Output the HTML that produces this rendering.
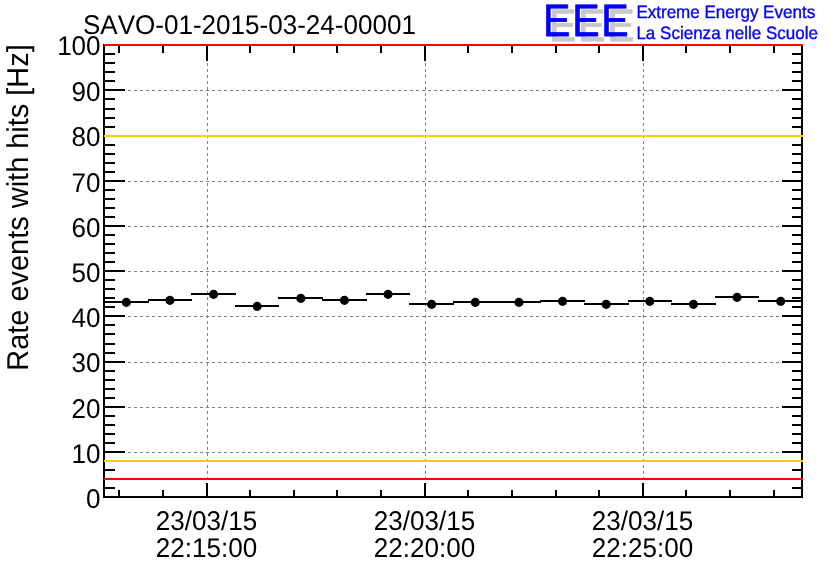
<!DOCTYPE html>
<html><head><meta charset="utf-8"><title>SAVO-01-2015-03-24-00001</title>
<style>html,body{margin:0;padding:0;background:#fff;}svg{display:block;}text{font-family:"Liberation Sans",Arial,Helvetica,sans-serif;font-kerning:none;text-rendering:geometricPrecision;}</style></head><body>
<svg width="836" height="572" viewBox="0 0 836 572">
<rect width="836" height="572" fill="#fff"/>
<g stroke="#808080" stroke-width="1" stroke-dasharray="3 3" shape-rendering="crispEdges" fill="none">
<line x1="104" y1="452.5" x2="802" y2="452.5"/>
<line x1="104" y1="407.5" x2="802" y2="407.5"/>
<line x1="104" y1="362.5" x2="802" y2="362.5"/>
<line x1="104" y1="316.5" x2="802" y2="316.5"/>
<line x1="104" y1="271.5" x2="802" y2="271.5"/>
<line x1="104" y1="226.5" x2="802" y2="226.5"/>
<line x1="104" y1="181.5" x2="802" y2="181.5"/>
<line x1="104" y1="136.5" x2="802" y2="136.5"/>
<line x1="104" y1="90.5" x2="802" y2="90.5"/>
<line x1="207.5" y1="45" x2="207.5" y2="497"/>
<line x1="425.5" y1="45" x2="425.5" y2="497"/>
<line x1="643.5" y1="45" x2="643.5" y2="497"/>
</g>
<g stroke="#000" stroke-width="2" shape-rendering="crispEdges" fill="none">
<rect x="104" y="45" width="698" height="452"/>
<line x1="104" y1="488" x2="115" y2="488"/>
<line x1="802" y1="488" x2="792" y2="488"/>
<line x1="104" y1="479" x2="115" y2="479"/>
<line x1="802" y1="479" x2="792" y2="479"/>
<line x1="104" y1="470" x2="115" y2="470"/>
<line x1="802" y1="470" x2="792" y2="470"/>
<line x1="104" y1="461" x2="115" y2="461"/>
<line x1="802" y1="461" x2="792" y2="461"/>
<line x1="104" y1="452" x2="125" y2="452"/>
<line x1="802" y1="452" x2="782" y2="452"/>
<line x1="104" y1="443" x2="115" y2="443"/>
<line x1="802" y1="443" x2="792" y2="443"/>
<line x1="104" y1="434" x2="115" y2="434"/>
<line x1="802" y1="434" x2="792" y2="434"/>
<line x1="104" y1="425" x2="115" y2="425"/>
<line x1="802" y1="425" x2="792" y2="425"/>
<line x1="104" y1="416" x2="115" y2="416"/>
<line x1="802" y1="416" x2="792" y2="416"/>
<line x1="104" y1="407" x2="125" y2="407"/>
<line x1="802" y1="407" x2="782" y2="407"/>
<line x1="104" y1="398" x2="115" y2="398"/>
<line x1="802" y1="398" x2="792" y2="398"/>
<line x1="104" y1="389" x2="115" y2="389"/>
<line x1="802" y1="389" x2="792" y2="389"/>
<line x1="104" y1="380" x2="115" y2="380"/>
<line x1="802" y1="380" x2="792" y2="380"/>
<line x1="104" y1="371" x2="115" y2="371"/>
<line x1="802" y1="371" x2="792" y2="371"/>
<line x1="104" y1="362" x2="125" y2="362"/>
<line x1="802" y1="362" x2="782" y2="362"/>
<line x1="104" y1="353" x2="115" y2="353"/>
<line x1="802" y1="353" x2="792" y2="353"/>
<line x1="104" y1="344" x2="115" y2="344"/>
<line x1="802" y1="344" x2="792" y2="344"/>
<line x1="104" y1="334" x2="115" y2="334"/>
<line x1="802" y1="334" x2="792" y2="334"/>
<line x1="104" y1="325" x2="115" y2="325"/>
<line x1="802" y1="325" x2="792" y2="325"/>
<line x1="104" y1="316" x2="125" y2="316"/>
<line x1="802" y1="316" x2="782" y2="316"/>
<line x1="104" y1="307" x2="115" y2="307"/>
<line x1="802" y1="307" x2="792" y2="307"/>
<line x1="104" y1="298" x2="115" y2="298"/>
<line x1="802" y1="298" x2="792" y2="298"/>
<line x1="104" y1="289" x2="115" y2="289"/>
<line x1="802" y1="289" x2="792" y2="289"/>
<line x1="104" y1="280" x2="115" y2="280"/>
<line x1="802" y1="280" x2="792" y2="280"/>
<line x1="104" y1="271" x2="125" y2="271"/>
<line x1="802" y1="271" x2="782" y2="271"/>
<line x1="104" y1="262" x2="115" y2="262"/>
<line x1="802" y1="262" x2="792" y2="262"/>
<line x1="104" y1="253" x2="115" y2="253"/>
<line x1="802" y1="253" x2="792" y2="253"/>
<line x1="104" y1="244" x2="115" y2="244"/>
<line x1="802" y1="244" x2="792" y2="244"/>
<line x1="104" y1="235" x2="115" y2="235"/>
<line x1="802" y1="235" x2="792" y2="235"/>
<line x1="104" y1="226" x2="125" y2="226"/>
<line x1="802" y1="226" x2="782" y2="226"/>
<line x1="104" y1="217" x2="115" y2="217"/>
<line x1="802" y1="217" x2="792" y2="217"/>
<line x1="104" y1="208" x2="115" y2="208"/>
<line x1="802" y1="208" x2="792" y2="208"/>
<line x1="104" y1="199" x2="115" y2="199"/>
<line x1="802" y1="199" x2="792" y2="199"/>
<line x1="104" y1="190" x2="115" y2="190"/>
<line x1="802" y1="190" x2="792" y2="190"/>
<line x1="104" y1="181" x2="125" y2="181"/>
<line x1="802" y1="181" x2="782" y2="181"/>
<line x1="104" y1="172" x2="115" y2="172"/>
<line x1="802" y1="172" x2="792" y2="172"/>
<line x1="104" y1="163" x2="115" y2="163"/>
<line x1="802" y1="163" x2="792" y2="163"/>
<line x1="104" y1="154" x2="115" y2="154"/>
<line x1="802" y1="154" x2="792" y2="154"/>
<line x1="104" y1="145" x2="115" y2="145"/>
<line x1="802" y1="145" x2="792" y2="145"/>
<line x1="104" y1="136" x2="125" y2="136"/>
<line x1="802" y1="136" x2="782" y2="136"/>
<line x1="104" y1="127" x2="115" y2="127"/>
<line x1="802" y1="127" x2="792" y2="127"/>
<line x1="104" y1="118" x2="115" y2="118"/>
<line x1="802" y1="118" x2="792" y2="118"/>
<line x1="104" y1="109" x2="115" y2="109"/>
<line x1="802" y1="109" x2="792" y2="109"/>
<line x1="104" y1="99" x2="115" y2="99"/>
<line x1="802" y1="99" x2="792" y2="99"/>
<line x1="104" y1="90" x2="125" y2="90"/>
<line x1="802" y1="90" x2="782" y2="90"/>
<line x1="104" y1="81" x2="115" y2="81"/>
<line x1="802" y1="81" x2="792" y2="81"/>
<line x1="104" y1="72" x2="115" y2="72"/>
<line x1="802" y1="72" x2="792" y2="72"/>
<line x1="104" y1="63" x2="115" y2="63"/>
<line x1="802" y1="63" x2="792" y2="63"/>
<line x1="104" y1="54" x2="115" y2="54"/>
<line x1="802" y1="54" x2="792" y2="54"/>
<line x1="119" y1="497" x2="119" y2="490"/>
<line x1="119" y1="45" x2="119" y2="53"/>
<line x1="163" y1="497" x2="163" y2="490"/>
<line x1="163" y1="45" x2="163" y2="53"/>
<line x1="207" y1="497" x2="207" y2="483"/>
<line x1="207" y1="45" x2="207" y2="61"/>
<line x1="250" y1="497" x2="250" y2="490"/>
<line x1="250" y1="45" x2="250" y2="53"/>
<line x1="294" y1="497" x2="294" y2="490"/>
<line x1="294" y1="45" x2="294" y2="53"/>
<line x1="337" y1="497" x2="337" y2="490"/>
<line x1="337" y1="45" x2="337" y2="53"/>
<line x1="381" y1="497" x2="381" y2="490"/>
<line x1="381" y1="45" x2="381" y2="53"/>
<line x1="425" y1="497" x2="425" y2="483"/>
<line x1="425" y1="45" x2="425" y2="61"/>
<line x1="468" y1="497" x2="468" y2="490"/>
<line x1="468" y1="45" x2="468" y2="53"/>
<line x1="512" y1="497" x2="512" y2="490"/>
<line x1="512" y1="45" x2="512" y2="53"/>
<line x1="556" y1="497" x2="556" y2="490"/>
<line x1="556" y1="45" x2="556" y2="53"/>
<line x1="599" y1="497" x2="599" y2="490"/>
<line x1="599" y1="45" x2="599" y2="53"/>
<line x1="643" y1="497" x2="643" y2="483"/>
<line x1="643" y1="45" x2="643" y2="61"/>
<line x1="686" y1="497" x2="686" y2="490"/>
<line x1="686" y1="45" x2="686" y2="53"/>
<line x1="730" y1="497" x2="730" y2="490"/>
<line x1="730" y1="45" x2="730" y2="53"/>
<line x1="774" y1="497" x2="774" y2="490"/>
<line x1="774" y1="45" x2="774" y2="53"/>
</g>
<g stroke-width="2" shape-rendering="crispEdges">
<line x1="104" y1="45" x2="803" y2="45" stroke="#ff0000"/>
<line x1="104" y1="136" x2="803" y2="136" stroke="#ffcc00"/>
<line x1="104" y1="461" x2="803" y2="461" stroke="#ffcc00"/>
<line x1="104" y1="479" x2="803" y2="479" stroke="#ff0000"/>
</g>
<g stroke="#000" stroke-width="2" shape-rendering="crispEdges">
<line x1="104" y1="302" x2="149" y2="302"/>
<line x1="148" y1="300" x2="192" y2="300"/>
<line x1="191" y1="294" x2="236" y2="294"/>
<line x1="235" y1="306" x2="279" y2="306"/>
<line x1="278" y1="298" x2="323" y2="298"/>
<line x1="322" y1="300" x2="367" y2="300"/>
<line x1="366" y1="294" x2="410" y2="294"/>
<line x1="409" y1="304" x2="454" y2="304"/>
<line x1="453" y1="302" x2="498" y2="302"/>
<line x1="497" y1="302" x2="541" y2="302"/>
<line x1="540" y1="301" x2="585" y2="301"/>
<line x1="584" y1="304" x2="629" y2="304"/>
<line x1="628" y1="301" x2="672" y2="301"/>
<line x1="671" y1="304" x2="716" y2="304"/>
<line x1="715" y1="297" x2="759" y2="297"/>
<line x1="758" y1="301" x2="803" y2="301"/>
</g>
<g fill="#000">
<circle cx="126.31" cy="302.4" r="4.55"/>
<circle cx="169.94" cy="300.4" r="4.55"/>
<circle cx="213.56" cy="294.4" r="4.55"/>
<circle cx="257.19" cy="306.4" r="4.55"/>
<circle cx="300.81" cy="298.4" r="4.55"/>
<circle cx="344.44" cy="300.4" r="4.55"/>
<circle cx="388.06" cy="294.4" r="4.55"/>
<circle cx="431.69" cy="304.4" r="4.55"/>
<circle cx="475.31" cy="302.4" r="4.55"/>
<circle cx="518.94" cy="302.4" r="4.55"/>
<circle cx="562.56" cy="301.4" r="4.55"/>
<circle cx="606.19" cy="304.4" r="4.55"/>
<circle cx="649.81" cy="301.4" r="4.55"/>
<circle cx="693.44" cy="304.4" r="4.55"/>
<circle cx="737.06" cy="297.4" r="4.55"/>
<circle cx="780.69" cy="301.4" r="4.55"/>
</g>
<text transform="translate(100.6,508.0) rotate(0.02) scale(1,1.04)" font-size="26.05" text-anchor="end" fill="#000">0</text>
<text transform="translate(100.6,462.9) rotate(0.02) scale(1,1.04)" font-size="26.05" text-anchor="end" fill="#000">10</text>
<text transform="translate(100.6,417.7) rotate(0.02) scale(1,1.04)" font-size="26.05" text-anchor="end" fill="#000">20</text>
<text transform="translate(100.6,372.5) rotate(0.02) scale(1,1.04)" font-size="26.05" text-anchor="end" fill="#000">30</text>
<text transform="translate(100.6,327.3) rotate(0.02) scale(1,1.04)" font-size="26.05" text-anchor="end" fill="#000">40</text>
<text transform="translate(100.6,282.1) rotate(0.02) scale(1,1.04)" font-size="26.05" text-anchor="end" fill="#000">50</text>
<text transform="translate(100.6,236.9) rotate(0.02) scale(1,1.04)" font-size="26.05" text-anchor="end" fill="#000">60</text>
<text transform="translate(100.6,191.7) rotate(0.02) scale(1,1.04)" font-size="26.05" text-anchor="end" fill="#000">70</text>
<text transform="translate(100.6,146.5) rotate(0.02) scale(1,1.04)" font-size="26.05" text-anchor="end" fill="#000">80</text>
<text transform="translate(100.6,101.3) rotate(0.02) scale(1,1.04)" font-size="26.05" text-anchor="end" fill="#000">90</text>
<text transform="translate(100.6,55.3) rotate(0.02) scale(1,1.04)" font-size="26.05" text-anchor="end" fill="#000">100</text>
<text transform="translate(206.5,529.9) rotate(0.02) scale(1,1.04)" font-size="26.05" text-anchor="middle" fill="#000">23/03/15</text>
<text transform="translate(206.5,557.3) rotate(0.02) scale(1,1.04)" font-size="26.05" text-anchor="middle" fill="#000">22:15:00</text>
<text transform="translate(424.5,529.9) rotate(0.02) scale(1,1.04)" font-size="26.05" text-anchor="middle" fill="#000">23/03/15</text>
<text transform="translate(424.5,557.3) rotate(0.02) scale(1,1.04)" font-size="26.05" text-anchor="middle" fill="#000">22:20:00</text>
<text transform="translate(642.5,529.9) rotate(0.02) scale(1,1.04)" font-size="26.05" text-anchor="middle" fill="#000">23/03/15</text>
<text transform="translate(642.5,557.3) rotate(0.02) scale(1,1.04)" font-size="26.05" text-anchor="middle" fill="#000">22:25:00</text>
<text transform="translate(82.9,33.9) rotate(0.02) scale(1,1.04)" font-size="26.05" text-anchor="start" fill="#000">SAVO-01-2015-03-24-00001</text>
<text transform="translate(28,370.7) rotate(-89.98) scale(1,1.04)" font-size="28.95" text-anchor="start" fill="#000">Rate events with hits [Hz]</text>
<text transform="translate(0,41.05) rotate(0.03) scale(0.904,1)" x="607.23 639.42 671.61" y="0" font-size="45.4" fill="#c8c8c8" stroke="#c8c8c8" stroke-width="0.75" stroke-linejoin="miter">EEE</text>
<text transform="translate(0,36.15) rotate(0.03) scale(0.904,1)" x="600.81 633.00 665.19" y="0" font-size="45.4" fill="#0000ff" stroke="#0000ff" stroke-width="0.75" stroke-linejoin="miter">EEE</text>
<text transform="translate(636.4,17.7) rotate(0.02) scale(1,1.05)" font-size="17.03" fill="#0000ff" stroke="#0000ff" stroke-width="0.35">Extreme Energy Events</text>
<text transform="translate(636.4,38.9) rotate(0.02) scale(1,1.05)" font-size="17.03" fill="#0000ff" stroke="#0000ff" stroke-width="0.35">La Scienza nelle Scuole</text>
</svg></body></html>
